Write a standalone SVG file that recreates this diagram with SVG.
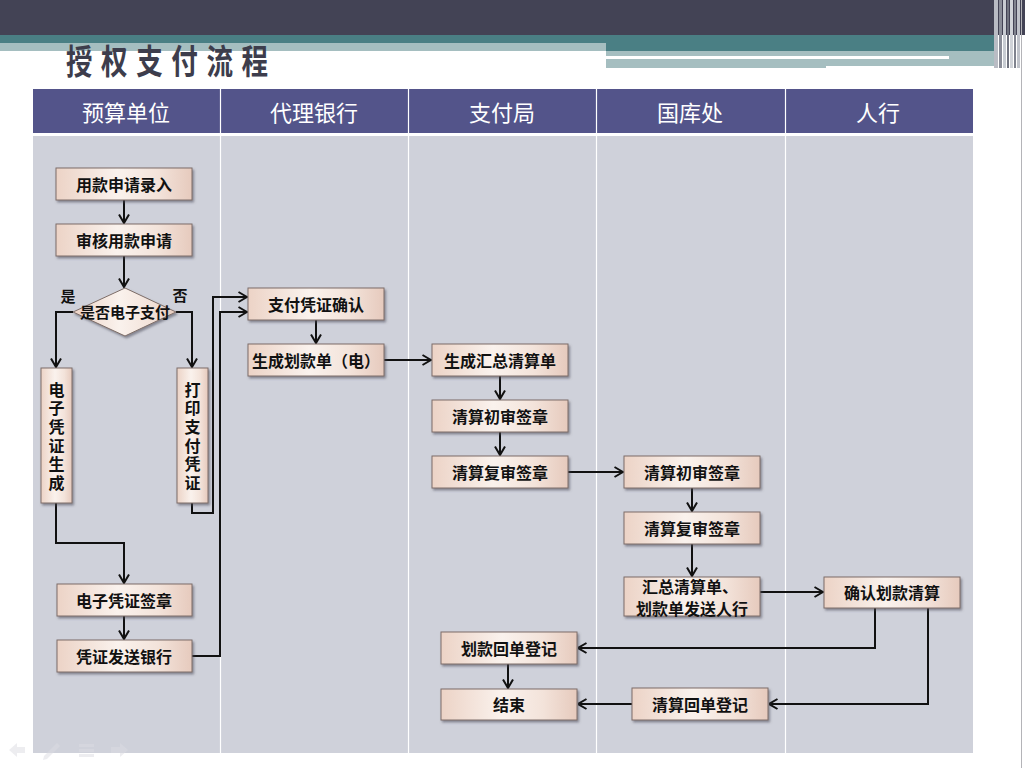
<svg xmlns="http://www.w3.org/2000/svg" width="1025" height="768" viewBox="0 0 1025 768">
<defs>
<style>
.box{fill:url(#nodeGrad);stroke:#7d6d68;stroke-width:1;filter:url(#shadow)}
.t{font-family:"Noto Sans CJK SC","Noto Sans",sans-serif;font-size:16px;font-weight:bold;fill:#111;text-anchor:middle;dominant-baseline:central}
.tv{font-family:"Noto Sans CJK SC","Noto Sans",sans-serif;font-size:16px;font-weight:bold;fill:#111;text-anchor:middle;writing-mode:vertical-rl;text-orientation:upright;letter-spacing:2.6px}
.hd{font-family:"Noto Sans CJK SC","Noto Sans",sans-serif;font-size:22px;fill:#ffffff;text-anchor:middle;dominant-baseline:central}
.lbl{font-family:"Noto Sans CJK SC","Noto Sans",sans-serif;font-size:15px;font-weight:bold;fill:#111;text-anchor:middle;dominant-baseline:central}
.ca{fill:none;stroke:#111;stroke-width:2;marker-end:url(#arr)}
.div{stroke:#ffffff;stroke-width:1.2}
.ico{fill:#dcdce3}
</style>
<linearGradient id="nodeGrad" x1="0" y1="0" x2="1" y2="0">
<stop offset="0" stop-color="#ecd3c6"/>
<stop offset="0.45" stop-color="#faf2ed"/>
<stop offset="0.75" stop-color="#f3e3da"/>
<stop offset="1" stop-color="#e6cabd"/>
</linearGradient>
<filter id="shadow" x="-10%" y="-20%" width="125%" height="150%">
<feDropShadow dx="1.5" dy="2" stdDeviation="1" flood-color="#4a4a55" flood-opacity="0.55"/>
</filter>
<marker id="arr" viewBox="0 0 10 12" refX="9.5" refY="6" markerWidth="10" markerHeight="12" markerUnits="userSpaceOnUse" orient="auto">
<path d="M1,1 L9.5,6 L1,11" fill="none" stroke="#111" stroke-width="2"/>
</marker>
</defs>

<rect x="0" y="0" width="1025" height="768" fill="#ffffff"/>

<!-- top banner -->
<g id="banner">
<rect x="0" y="0" width="1025" height="35" fill="#434355"/>
<rect x="0" y="35" width="606" height="8" fill="#4a7f84"/>
<rect x="0" y="43" width="606" height="8" fill="#a5bec0"/>
<rect x="606" y="35" width="392" height="16" fill="#4a7f84"/>
<rect x="606" y="51" width="220" height="17" fill="#a5bec0"/>
<rect x="826" y="51" width="170" height="15" fill="#a5bec0"/>
<rect x="606" y="56" width="343" height="3" fill="#ffffff"/>
<rect x="994" y="0" width="4" height="68" fill="#b9bcc4"/>
<rect x="999" y="0" width="3" height="68" fill="#8a8d98"/>
<rect x="1003" y="0" width="3" height="68" fill="#c8ccd2"/>
<rect x="1007" y="0" width="2" height="68" fill="#70737f"/>
<rect x="1010" y="0" width="3" height="68" fill="#d0d3d8"/>
<rect x="1014" y="0" width="2" height="68" fill="#80838e"/>
<rect x="1017" y="0" width="3" height="68" fill="#c0c3ca"/>
<line x1="1021.5" y1="0" x2="1021.5" y2="768" stroke="#b4b4b8" stroke-width="1"/>
<text x="0" y="0" transform="translate(66,60) scale(0.78,1)" font-family="'Noto Sans CJK SC','Noto Sans',sans-serif" font-size="34" font-weight="bold" fill="#3d3d4c" letter-spacing="11" dominant-baseline="central">授权支付流程</text>
</g>

<!-- swimlanes -->
<g id="lanes">
<rect x="33" y="89" width="940" height="44" fill="#53548a"/>
<rect x="33" y="136" width="940" height="617" fill="#cfd1da"/>
<line class="div" x1="220.5" y1="89" x2="220.5" y2="753"/>
<line class="div" x1="408.5" y1="89" x2="408.5" y2="753"/>
<line class="div" x1="596.5" y1="89" x2="596.5" y2="753"/>
<line class="div" x1="785.5" y1="89" x2="785.5" y2="753"/>
<text class="hd" x="126" y="111">预算单位</text>
<text class="hd" x="314" y="111">代理银行</text>
<text class="hd" x="502" y="111">支付局</text>
<text class="hd" x="690" y="111">国库处</text>
<text class="hd" x="878" y="111">人行</text>
</g>

<!-- connectors -->
<g id="connectors">
<path class="ca" d="M124,200 V223"/>
<path class="ca" d="M124,256 V287"/>
<path class="ca" d="M73,312 H56 V367"/>
<path class="ca" d="M176,312 H192 V367"/>
<path class="ca" d="M192,503 V513 H213 V297 H247"/>
<path class="ca" d="M56,503 V543 H124 V583"/>
<path class="ca" d="M124,616 V639"/>
<path class="ca" d="M192,656 H220 V312 H247"/>
<path class="ca" d="M316,320 V343"/>
<path class="ca" d="M384,360 H431"/>
<path class="ca" d="M500,376 V399"/>
<path class="ca" d="M500,432 V455"/>
<path class="ca" d="M568,472 H623"/>
<path class="ca" d="M692,488 V511"/>
<path class="ca" d="M692,544 V576"/>
<path class="ca" d="M760,592 H823"/>
<path class="ca" d="M875,608 V648 H578"/>
<path class="ca" d="M928,608 V704 H769"/>
<path class="ca" d="M632,704 H578"/>
<path class="ca" d="M508,664 V688"/>
</g>

<!-- nodes -->
<g id="n1"><rect class="box" x="56" y="168" width="136" height="32"/><text class="t" x="124" y="184">用款申请录入</text></g>
<g id="n2"><rect class="box" x="56" y="224" width="136" height="32"/><text class="t" x="124" y="240">审核用款申请</text></g>
<g id="n3"><path class="box" d="M125,288 L176,312 L125,336 L73,312 Z"/><text class="lbl" x="125" y="311" font-size="14px">是否电子支付</text></g>
<g id="lbl-yes"><text class="lbl" x="68" y="295">是</text></g>
<g id="lbl-no"><text class="lbl" x="180" y="294">否</text></g>
<g id="n4"><rect class="box" x="41" y="368" width="31" height="135"/>
<text class="tv" x="56.5" y="437.5">电子凭证生成</text></g>
<g id="n5"><rect class="box" x="177" y="368" width="31" height="135"/>
<text class="tv" x="192.5" y="437.5">打印支付凭证</text></g>
<g id="n6"><rect class="box" x="57" y="584" width="135" height="32"/><text class="t" x="124" y="600">电子凭证签章</text></g>
<g id="n7"><rect class="box" x="57" y="640" width="135" height="32"/><text class="t" x="124" y="656">凭证发送银行</text></g>
<g id="n8"><rect class="box" x="248" y="288" width="136" height="32"/><text class="t" x="316" y="304">支付凭证确认</text></g>
<g id="n9"><rect class="box" x="248" y="344" width="136" height="32"/><text class="t" x="316" y="360">生成划款单（电）</text></g>
<g id="n10"><rect class="box" x="432" y="344" width="136" height="32"/><text class="t" x="500" y="360">生成汇总清算单</text></g>
<g id="n11"><rect class="box" x="432" y="400" width="136" height="32"/><text class="t" x="500" y="416">清算初审签章</text></g>
<g id="n12"><rect class="box" x="432" y="456" width="136" height="32"/><text class="t" x="500" y="472">清算复审签章</text></g>
<g id="n13"><rect class="box" x="624" y="456" width="136" height="32"/><text class="t" x="692" y="472">清算初审签章</text></g>
<g id="n14"><rect class="box" x="624" y="512" width="136" height="32"/><text class="t" x="692" y="528">清算复审签章</text></g>
<g id="n15"><rect class="box" x="624" y="577" width="136" height="39"/><text class="t" x="690" y="586" font-size="15px"><tspan x="690" y="586">汇总清算单、</tspan><tspan x="692" y="608">划款单发送人行</tspan></text></g>
<g id="n16"><rect class="box" x="824" y="577" width="136" height="31"/><text class="t" x="892" y="592">确认划款清算</text></g>
<g id="n17"><rect class="box" x="441" y="632" width="136" height="32"/><text class="t" x="509" y="648">划款回单登记</text></g>
<g id="n18"><rect class="box" x="441" y="689" width="136" height="31"/><text class="t" x="509" y="704">结束</text></g>
<g id="n19"><rect class="box" x="632" y="688" width="136" height="32"/><text class="t" x="700" y="704">清算回单登记</text></g>

<!-- faint slideshow controls -->
<g id="controls" opacity="0.5">
<path class="ico" d="M9,750 L17,743 L17,747 L25,747 L25,753 L17,753 L17,757 Z"/>
<path class="ico" d="M44,756 L57,743 L60,746 L47,759 L43,760 Z"/>
<rect class="ico" x="79" y="744" width="15" height="3"/>
<rect class="ico" x="79" y="749" width="15" height="3"/>
<rect class="ico" x="79" y="754" width="15" height="3"/>
<path class="ico" d="M128,750 L120,743 L120,747 L111,747 L111,753 L120,753 L120,757 Z"/>
</g>
</svg>
